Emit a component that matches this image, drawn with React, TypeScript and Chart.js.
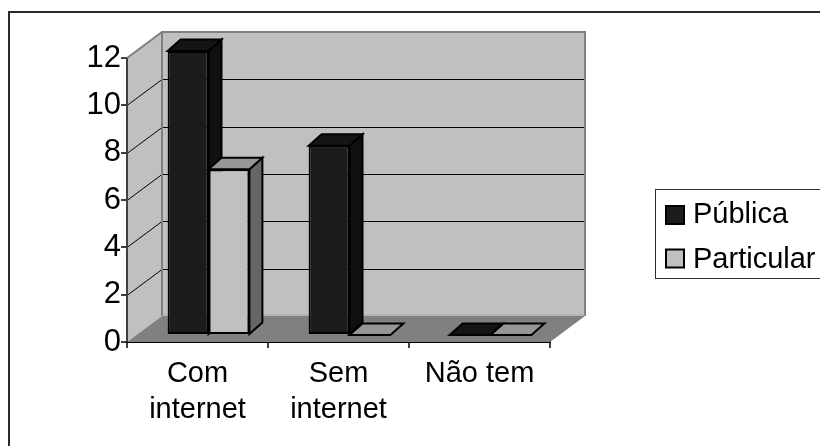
import React, { useEffect, useRef } from "react";
import { Chart, registerables } from "chart.js";

Chart.register(...registerables);

const categories = [["Com", "internet"], ["Sem", "internet"], ["Não tem"]];
const publica = [12, 8, 0];
const particular = [7, 0, 0];
const seriesNames = ["Pública", "Particular"];
const yTicks = [0, 2, 4, 6, 8, 10, 12];

const FONT = '"Liberation Sans", Arial, sans-serif';
const WALL = "#c0c0c0";
const WALL_EDGE = "#808080";
const FLOOR = "#808080";
const FACE_COLORS = ["#1c1c1c", "#c0c0c0"];
const TOP_COLORS = ["#141414", "#969696"];
const SIDE_COLORS = ["#101010", "#666666"];

// depth of the whole floor/wall box, and of each column
const BOX_DX = 35;
const BOX_DY = -26;
const BAR_DX = 13;
const BAR_DY = -11.5;
// columns stand partway back on the floor
const BAR_SHIFT_X = 11;
const BAR_SHIFT_Y = -7;

function poly(ctx: CanvasRenderingContext2D, pts: number[][], fill: string, stroke?: string, lw = 1) {
  ctx.beginPath();
  pts.forEach(([x, y], i) => (i ? ctx.lineTo(x, y) : ctx.moveTo(x, y)));
  ctx.closePath();
  ctx.fillStyle = fill;
  ctx.fill();
  if (stroke) {
    ctx.strokeStyle = stroke;
    ctx.lineWidth = lw;
    ctx.lineJoin = "miter";
    ctx.stroke();
  }
}

// One series: side and top faces from the bar geometry, then the bars themselves as front faces.
function paintSeries(chart: any, i: number) {
  const { ctx } = chart;
  const meta = chart.getDatasetMeta(i);
  meta.data.forEach((bar: any) => {
    const x0 = bar.x - bar.width / 2;
    const x1 = bar.x + bar.width / 2;
    const yT = bar.y;
    const yB = bar.base;
    if (yB - yT > 0.5) {
      poly(ctx, [[x1, yT], [x1 + BAR_DX, yT + BAR_DY], [x1 + BAR_DX, yB + BAR_DY], [x1, yB]], SIDE_COLORS[i], "#000000", 2);
    }
    poly(ctx, [[x0, yT], [x0 + BAR_DX, yT + BAR_DY], [x1 + BAR_DX, yT + BAR_DY], [x1, yT]], TOP_COLORS[i], "#000000", 2);
  });
  meta.controller.draw();
}

const box3d = {
  id: "box3d",
  beforeDatasetsDraw(chart: any) {
    const { ctx, scales } = chart;
    const xs = scales.x;
    const ys = scales.y;
    const l = xs.left;
    const r = xs.right;
    const t = ys.getPixelForValue(12);
    const b = ys.getPixelForValue(0);
    ctx.save();
    // back wall
    poly(ctx, [[l + BOX_DX, t + BOX_DY], [r + BOX_DX, t + BOX_DY], [r + BOX_DX, b + BOX_DY], [l + BOX_DX, b + BOX_DY]], WALL);
    // left wall
    poly(ctx, [[l, t], [l + BOX_DX, t + BOX_DY], [l + BOX_DX, b + BOX_DY], [l, b]], WALL);
    // floor
    poly(ctx, [[l, b], [l + BOX_DX, b + BOX_DY], [r + BOX_DX, b + BOX_DY], [r, b]], FLOOR);

    // horizontal rules run along the left wall and across the back wall
    ctx.strokeStyle = "#000000";
    ctx.lineWidth = 1;
    yTicks.filter((v) => v > 0 && v < 12).forEach((v) => {
      const y = Math.round(ys.getPixelForValue(v)) + 0.5;
      ctx.beginPath();
      ctx.moveTo(l, y);
      ctx.lineTo(l + BOX_DX, y + BOX_DY);
      ctx.lineTo(r + BOX_DX, y + BOX_DY);
      ctx.stroke();
    });

    // box outline
    ctx.strokeStyle = WALL_EDGE;
    ctx.lineWidth = 2;
    ctx.beginPath();
    ctx.moveTo(l, t);
    ctx.lineTo(l + BOX_DX, t + BOX_DY);
    ctx.lineTo(r + BOX_DX, t + BOX_DY);
    ctx.lineTo(r + BOX_DX, b + BOX_DY);
    ctx.moveTo(l + BOX_DX, t + BOX_DY);
    ctx.lineTo(l + BOX_DX, b + BOX_DY);
    ctx.stroke();
    ctx.strokeStyle = "#a8a8a8";
    ctx.lineWidth = 1;
    ctx.beginPath();
    ctx.moveTo(l + BOX_DX, b + BOX_DY - 1);
    ctx.lineTo(r + BOX_DX, b + BOX_DY - 1);
    ctx.stroke();
    ctx.restore();
  },
  // Chart.js paints the leftmost series last; here the order is swapped so the
  // Particular columns cover the side faces of the Pública columns.
  beforeDatasetDraw(chart: any, args: any) {
    if (args.index !== 0) return false;
    const { ctx } = chart;
    ctx.save();
    ctx.translate(BAR_SHIFT_X, BAR_SHIFT_Y);
    paintSeries(chart, 0);
    paintSeries(chart, 1);
    ctx.restore();
    return false;
  },
  afterDraw(chart: any) {
    const { ctx, scales, width, height } = chart;
    ctx.save();
    // the y axis line sits over the left wall's front edge
    ctx.strokeStyle = "#404040";
    ctx.lineWidth = 2;
    ctx.beginPath();
    ctx.moveTo(scales.x.left, scales.y.getPixelForValue(12));
    ctx.lineTo(scales.x.left, scales.y.getPixelForValue(0));
    ctx.stroke();

    // outer frame of the chart
    ctx.strokeStyle = "#2a2a2a";
    ctx.lineWidth = 2;
    ctx.beginPath();
    ctx.moveTo(9, height);
    ctx.lineTo(9, 12);
    ctx.lineTo(width, 12);
    ctx.stroke();

    // legend
    ctx.fillStyle = "#ffffff";
    ctx.fillRect(655, 189, width - 655, 90);
    ctx.strokeStyle = "#303030";
    ctx.lineWidth = 1;
    ctx.strokeRect(655.5, 189.5, width, 89);
    ctx.font = `29px ${FONT}`;
    ctx.textBaseline = "alphabetic";
    seriesNames.forEach((name, i) => {
      const y = 206 + i * 43.5;
      ctx.fillStyle = FACE_COLORS[i];
      ctx.strokeStyle = "#000000";
      ctx.lineWidth = 2;
      ctx.fillRect(666, y, 18, 18);
      ctx.strokeRect(666, y, 18, 18);
      ctx.fillStyle = "#000000";
      ctx.fillText(name, 693, 222.5 + i * 45.5);
    });
    ctx.restore();
  },
};

export default function App() {
  const ref = useRef<HTMLCanvasElement>(null);
  useEffect(() => {
    const chart = new Chart(ref.current as HTMLCanvasElement, {
      type: "bar",
      data: {
        labels: categories as any,
        datasets: [
          { label: seriesNames[0], data: publica, backgroundColor: FACE_COLORS[0], borderColor: "#000000", borderWidth: 2, borderSkipped: false, clip: false },
          { label: seriesNames[1], data: particular, backgroundColor: FACE_COLORS[1], borderColor: "#000000", borderWidth: 2, borderSkipped: false, clip: false },
        ],
      },
      options: {
        responsive: false,
        animation: false,
        layout: { padding: { left: 20, right: 270, top: 58, bottom: 14 } },
        datasets: { bar: { categoryPercentage: 0.58, barPercentage: 1 } },
        plugins: { legend: { display: false }, tooltip: { enabled: false }, title: { display: false } },
        scales: {
          x: {
            offset: true,
            afterFit: (s: any) => { s.height = 90; },
            border: { color: "#000000", width: 2 },
            grid: { offset: true, drawOnChartArea: false, drawTicks: true, tickLength: 6, color: "#404040", lineWidth: 2 },
            ticks: { color: "#000000", font: { family: FONT, size: 29, lineHeight: 1.24 }, padding: 8, maxRotation: 0, autoSkip: false },
          },
          y: {
            min: 0,
            max: 12,
            afterFit: (s: any) => { s.width = 107; },
            border: { display: false },
            grid: { drawOnChartArea: false, drawTicks: true, tickLength: 6, color: "#404040", lineWidth: 2 },
            ticks: { stepSize: 2, color: "#000000", font: { family: FONT, size: 31 }, padding: 0 },
          },
        },
      } as any,
      plugins: [box3d],
    });
    return () => chart.destroy();
  }, []);
  return (
    <div style={{ position: "absolute", left: 0, top: 0, width: 820, height: 446, background: "#ffffff", overflow: "hidden" }}>
      <canvas ref={ref} width={820} height={446} style={{ display: "block" }} />
    </div>
  );
}
